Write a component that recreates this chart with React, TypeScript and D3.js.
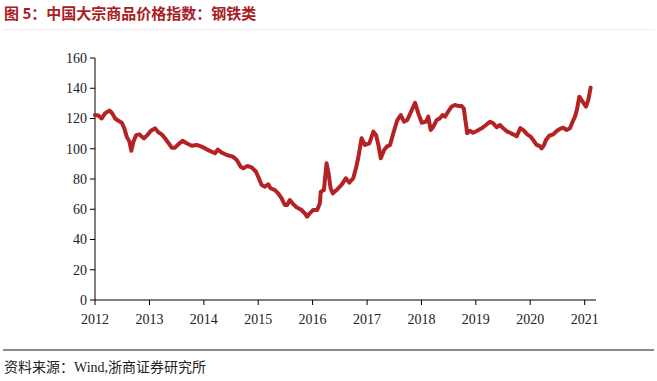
import React from "react";
import * as d3 from "d3";

const TITLE = "图 5：中国大宗商品价格指数：钢铁类";
const SOURCE = "资料来源：Wind,浙商证券研究所";

const yTicks = [0, 20, 40, 60, 80, 100, 120, 140, 160];
const xTickYears = [2012, 2013, 2014, 2015, 2016, 2017, 2018, 2019, 2020, 2021];

const dates = [
  "2012-01-01","2012-01-23","2012-02-15","2012-03-08","2012-04-06","2012-04-22","2012-05-15","2012-06-06","2012-06-29","2012-07-16",
  "2012-08-01","2012-08-19","2012-09-01","2012-09-15","2012-10-03","2012-10-25","2012-11-10","2012-11-25","2012-12-17","2013-01-09",
  "2013-02-07","2013-03-01","2013-03-24","2013-04-15","2013-05-07","2013-05-30","2013-06-21","2013-07-13","2013-08-11","2013-09-07",
  "2013-10-11","2013-11-13","2013-12-17","2014-01-20","2014-02-23","2014-03-17","2014-04-04","2014-05-01","2014-06-04","2014-07-14",
  "2014-08-10","2014-09-05","2014-09-23","2014-10-20","2014-11-18","2014-12-17","2015-01-01","2015-01-24","2015-02-15","2015-03-09",
  "2015-03-25","2015-04-23","2015-05-15","2015-06-07","2015-06-29","2015-07-14","2015-08-01","2015-08-19","2015-09-15","2015-10-19",
  "2015-11-10","2015-11-25","2015-12-13","2016-01-05","2016-02-01","2016-02-19","2016-02-25","2016-03-17","2016-04-04","2016-04-17",
  "2016-05-01","2016-05-16","2016-06-10","2016-07-02","2016-07-20","2016-08-11","2016-09-03","2016-09-30","2016-10-18","2016-11-02",
  "2016-11-25","2016-12-17","2017-01-16","2017-02-12","2017-03-02","2017-03-18","2017-04-03","2017-04-25","2017-05-13","2017-06-04",
  "2017-06-26","2017-07-23","2017-08-15","2017-09-06","2017-09-28","2017-10-28","2017-11-19","2017-12-11","2018-01-03","2018-02-01",
  "2018-02-16","2018-03-04","2018-03-22","2018-04-13","2018-05-05","2018-05-23","2018-06-08","2018-06-29","2018-07-22","2018-08-13",
  "2018-09-04","2018-09-27","2018-10-12","2018-10-26","2018-11-04","2018-11-22","2018-12-14","2019-01-10","2019-02-09","2019-03-10",
  "2019-04-06","2019-04-28","2019-05-21","2019-06-12","2019-07-04","2019-07-31","2019-08-18","2019-09-09","2019-10-02","2019-10-27",
  "2019-11-20","2019-12-12","2020-01-04","2020-01-26","2020-02-13","2020-03-02","2020-03-18","2020-04-03","2020-04-16","2020-05-08",
  "2020-06-04","2020-06-27","2020-07-19","2020-08-10","2020-09-02","2020-09-24","2020-10-12","2020-10-28","2020-11-12","2020-11-26",
  "2020-12-18","2021-01-10","2021-01-25","2021-02-10"
];

const values = [
  122.3,122,120,123.4,125.2,123.9,120,118.5,117.2,113.5,
  108,104.7,98.7,104.7,109,109.5,108,106.9,109,111.7,
  113.5,110.9,109.5,106.9,104,100.7,100.7,102.9,105.3,103.6,
  102,102.5,101.4,99.6,98,97,99.4,97.4,95.9,94.8,
  92.6,88.1,87.1,88.6,87.7,84.8,81.5,76,74.9,76.5,
  73.9,72.7,70.5,67.2,62.8,62.8,66.1,63.9,61.3,59.5,
  57.3,55.1,57.3,59.5,59.5,63.9,71.6,72.7,90.4,83.8,
  73.9,70.5,72.7,74.9,77.1,80.5,77.6,80.5,87.1,93.7,
  106.9,102.5,103.6,111.3,109.1,102.5,93.7,99.2,101.4,102.5,
  110.2,119,122.3,117.9,119,125.6,130.4,123.4,117.2,117.9,
  121.2,112.4,114.6,119,120.1,122.3,121.2,124.5,127.8,128.9,
  128.3,128.3,126.7,116.8,110.2,111.9,110.6,111.9,113.5,115.7,
  117.9,116.8,114.2,115.7,113.5,111.3,110.6,109.5,108.2,113.7,
  112,109.5,108,105.1,102.5,102,100.3,102.5,105.8,108.6,
  109.5,111.7,113.1,113.9,112.4,113.5,117.9,121.2,126.7,134.4,
  131.1,127.8,132.2,140.4
];

const X_START = "2012-01-01";
const X_END = "2021-03-18";

export default function App() {
  const W = 657, H = 381;
  const left = 95, right = 596, top = 58, bottom = 300;
  const parse = d3.timeParse("%Y-%m-%d");
  const x = d3.scaleTime().domain([parse(X_START)!, parse(X_END)!]).range([left, right]);
  const y = d3.scaleLinear().domain([0, 160]).range([bottom, top]);
  const data = dates.map((d, i) => ({ d: parse(d)!, v: values[i] }));
  const line = d3.line<{ d: Date; v: number }>().x(p => x(p.d)).y(p => y(p.v)).curve(d3.curveLinear);
  const serif = "'Liberation Serif', 'Times New Roman', serif";
  const cjk = "'Noto Sans CJK SC', sans-serif";
  return (
    <svg width={W} height={H} style={{ position: "absolute", left: 0, top: 0, background: "#fff" }}>
      <text x={4} y={19} fontSize={15} fontWeight="bold" fill="#a8201f" fontFamily={cjk}>{TITLE}</text>
      <line x1={3} x2={654} y1={29.5} y2={29.5} stroke="#eeeeee" strokeWidth={1} />
      {/* y axis */}
      <line x1={left} x2={left} y1={top} y2={bottom} stroke="#000" strokeWidth={1} />
      {yTicks.map(t => (
        <g key={t}>
          <line x1={left - 5} x2={left} y1={y(t)} y2={y(t)} stroke="#000" strokeWidth={1} />
          <text x={left - 8} y={y(t)} dy="0.35em" textAnchor="end" fontSize={14} fontFamily={serif} fill="#222">{t}</text>
        </g>
      ))}
      {/* x axis */}
      <line x1={left} x2={right} y1={bottom} y2={bottom} stroke="#000" strokeWidth={1} />
      {xTickYears.map(yr => {
        const xp = x(new Date(yr, 0, 1));
        return (
          <g key={yr}>
            <line x1={xp} x2={xp} y1={bottom} y2={bottom + 5} stroke="#000" strokeWidth={1} />
            <text x={xp} y={bottom + 24} textAnchor="middle" fontSize={14} fontFamily={serif} fill="#222">{yr}</text>
          </g>
        );
      })}
      <path d={line(data) || ""} fill="none" stroke="#b42224" strokeWidth={4} strokeLinejoin="round" strokeLinecap="round" />
      <line x1={3} x2={654} y1={350} y2={350} stroke="#8a8a8a" strokeWidth={2} />
      <text x={4} y={372} fontSize={14} fill="#222" fontFamily={`${serif}, ${cjk}`}>{SOURCE}</text>
    </svg>
  );
}
